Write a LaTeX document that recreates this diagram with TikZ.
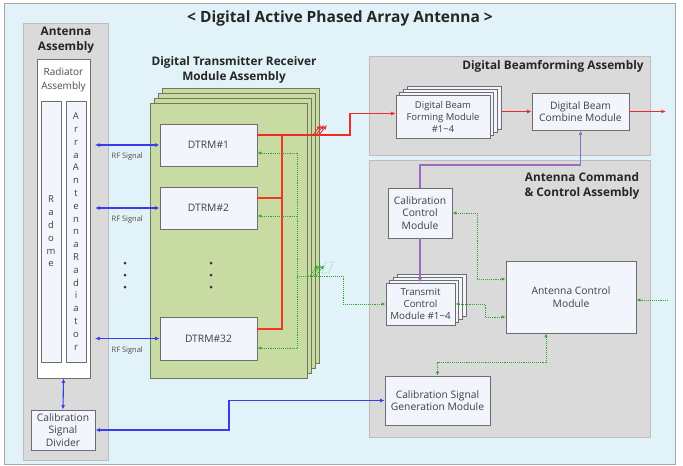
\documentclass[tikz,border=0pt]{standalone}
\usepackage{fontspec}
\setmainfont{Open Sans}
\usetikzlibrary{calc,arrows.meta}

\definecolor{skybg}{HTML}{E1F3F9}
\definecolor{asmgray}{HTML}{DADADA}
\definecolor{asmedge}{HTML}{BDBDBD}
\definecolor{boxfill}{HTML}{F3F5FC}
\definecolor{boxedge}{HTML}{6E6E6E}
\definecolor{trmgreen}{HTML}{C7DBA2}
\definecolor{trmedge}{HTML}{6F7A5A}
\definecolor{rfblue}{HTML}{3A3AF0}
\definecolor{datared}{HTML}{F02A2A}
\definecolor{ctrlgreen}{HTML}{2DA82D}
\definecolor{calpurple}{HTML}{9B6BC4}

\begin{document}
\begin{tikzpicture}[x=1pt, y=-1pt,
        frame/.style={draw=gray!70, fill=skybg, line width=0.8pt, inner sep=0pt},
        asm/.style={draw=asmedge, fill=asmgray, line width=0.8pt, inner sep=0pt},
        asmtitle/.style={font=\bfseries\fontsize{11.8}{15}\selectfont, align=center, text=black!85},
        block/.style={
            draw=boxedge,
            fill=boxfill,
            line width=0.9pt,
            inner sep=0pt,
            align=center,
            text=black!75,
            font=\fontsize{10.3}{12.5}\selectfont
        },
        layer/.style={draw=trmedge, fill=trmgreen, line width=0.9pt, inner sep=0pt, minimum width=157pt, minimum height=275pt},
        column/.style={block, minimum width=20pt, minimum height=261pt, font=\fontsize{9.5}{12.8}\selectfont},
        dot/.style={circle, fill=black!80, inner sep=0pt, minimum size=3pt},
        rfarrow/.style={<->, >={Latex[length=4.5pt, width=4pt]}, draw=rfblue, line width=1.1pt},
        rfnote/.style={font=\fontsize{7.5}{8}\selectfont, text=black!70},
        dataline/.style={draw=datared, line width=1.2pt, >={Latex[length=4.5pt, width=4pt]}},
        ctrlline/.style={draw=ctrlgreen, densely dotted, line width=0.9pt, >={Latex[length=4pt, width=3.5pt]}},
        calline/.style={draw=calpurple, line width=1.4pt, >={Latex[length=4.5pt, width=4pt]}}
    ]

    \useasboundingbox (0,0) rectangle (683,466);

    \node[frame, minimum width=671pt, minimum height=461pt] (outer) at (339.5,233.5) {};
    \node[font=\bfseries\fontsize{15.5}{18}\selectfont, text=black!85] (title) at (340,18) {< Digital Active Phased Array Antenna >};

    \node[asm, minimum width=85pt, minimum height=437pt] (antAsm) at (65.5,241.5) {};
    \node[asmtitle] (antTitle) at (66,40) {Antenna\\Assembly};

    \node[block, minimum width=53pt, minimum height=319pt, fill=white] (radAsm) at (63.5,218.5) {};
    \node[text=black!70, align=center, font=\fontsize{10}{14}\selectfont] (radTitle) at (63.5,80) {Radiator\\Assembly};

    \node[column] (radome) at (51,231.5) {R\\a\\d\\o\\m\\e};
    \node[column] (arrRad) at (76,231.5) {A\\r\\r\\a\\A\\n\\t\\e\\n\\n\\a\\R\\a\\d\\i\\a\\t\\o\\r};

    \node[block, minimum width=64pt, minimum height=40pt] (calDiv) at (63,430) {Calibration\\Signal\\Divider};

    \foreach \k in {3,2,1}
        \node[layer] (trmL\k) at ($(228.5,240.5)+(4.3*\k,-5*\k)$) {};
    \node[layer] (trm) at (228.5,240.5) {};
    \node[asmtitle] (trmTitle) at (234,70) {Digital Transmitter Receiver\\Module Assembly};

    \node[block, minimum width=97pt, minimum height=42pt] (dtrm1) at (208.5,145) {DTRM\#1};
    \node[block, minimum width=97pt, minimum height=42pt] (dtrm2) at (208.5,208) {DTRM\#2};
    \node[block, minimum width=97pt, minimum height=43pt] (dtrm32) at (208.5,338.5) {DTRM\#32};

    \foreach \y in {263,275,287} {
        \node[dot] (dotL\y) at (125,\y) {};
        \node[dot] (dotT\y) at (211,\y) {};
    }

    \node[asm, minimum width=281pt, minimum height=99pt] (dbfAsm) at (509.5,105.5) {};
    \node[asmtitle] (dbfTitle) at (553,66) {Digital Beamforming Assembly};

    \foreach \k in {3,2,1}
        \node[block, minimum width=94pt, minimum height=43pt] (dbfL\k) at ($(443,116.5)+(3.7*\k,-2.7*\k)$) {};
    \node[block, minimum width=94pt, minimum height=43pt, font=\fontsize{9.5}{12}\selectfont] (dbf) at (443,116.5) {Digital Beam\\Forming Module\\\#1\textasciitilde4};
    \node[block, minimum width=97pt, minimum height=37pt] (dbc) at (580.5,111.5) {Digital Beam\\Combine Module};

    \node[asm, minimum width=281pt, minimum height=277pt] (accAsm) at (509.5,298.5) {};
    \node[asmtitle] (accTitle) at (582,186) {Antenna Command\\\& Control Assembly};

    \node[block, minimum width=64pt, minimum height=50pt] (ccm) at (420,213) {Calibration\\Control\\Module};

    \foreach \k in {3,2,1}
        \node[block, minimum width=69pt, minimum height=42pt] (tcmL\k) at ($(420.5,304)+(3.7*\k,-3*\k)$) {};
    \node[block, minimum width=69pt, minimum height=42pt, font=\fontsize{9.8}{12}\selectfont] (tcm) at (420.5,304) {Transmit\\Control\\Module \#1\textasciitilde4};

    \node[block, minimum width=130pt, minimum height=72pt] (acm) at (571,297) {Antenna Control\\Module};
    \node[block, minimum width=105pt, minimum height=49pt] (csgm) at (437.5,400.5) {Calibration Signal\\Generation Module};

    \coordinate (rfx) at (95,0);
    \draw[rfarrow] (rfx |- dtrm1.west) -- node[rfnote, below=4pt] (rf1) {RF Signal} (dtrm1.west);
    \draw[rfarrow] (rfx |- dtrm2.west) -- node[rfnote, below=4pt] (rf2) {RF Signal} (dtrm2.west);
    \draw[rfarrow] (rfx |- dtrm32.west) -- node[rfnote, below=4pt] (rf32) {RF Signal} (dtrm32.west);
    \draw[rfarrow] (radAsm.south) -- (calDiv.north);

    \coordinate (calbend) at (229,415);
    \draw[rfarrow] (calDiv.east) -| (calbend) |- (csgm.west);

    \coordinate (r1) at (282,135);
    \coordinate (r2) at (282,198);
    \coordinate (r32) at (282,329);
    \coordinate (rout) at (316,135);
    \coordinate (rbend) at (350,124);
    \draw[dataline, draw=datared!85!orange] (r32 -| dtrm32.east) -- (r32) -- (r1);
    \draw[dataline, draw=datared!85!orange] (r2 -| dtrm2.east) -- (r2);
    \draw[dataline, ->] (r1 -| dtrm1.east) -- (rout) -| (rbend) |- ([yshift=3pt]dbf.west);
    \foreach \k in {0,1,2}
        \draw[dataline, line width=0.8pt, ->] ($(rout)+(-4+3*\k,1)$) -- ++(9,-11);

    \draw[dataline, ->] (dbfL3.east |- dbc.west) -- (dbc.west);
    \coordinate (dbcOut) at (666,111.5);
    \draw[dataline, ->] (dbc.east) -- (dbcOut);

    \coordinate (pbend) at (500,165);
    \draw[calline, ->] (ccm.north) |- (pbend) -| (dbc.south);
    \draw[calline, ->] (ccm.south) -- (ccm.south |- tcm.north);

    \coordinate (gtop) at (297,153);
    \coordinate (g2) at (297,216);
    \coordinate (gbot) at (297,348);
    \coordinate (gmid) at (297,276);
    \coordinate (gout) at (314,276);
    \coordinate (gbend) at (343,290);
    \draw[ctrlline] (gtop) -- (gbot);
    \draw[ctrlline, ->] (gtop) -- (gtop -| dtrm1.east);
    \draw[ctrlline, ->] (g2) -- (g2 -| dtrm2.east);
    \draw[ctrlline, ->] (gbot) -- (gbot -| dtrm32.east);
    \draw[ctrlline, ->] (gmid) -- (gout) -| (gbend) |- (tcm.west);
    \foreach \k in {0,1,2}
        \draw[ctrlline, ->] ($(gout)+(-4+3*\k,0)$) -- ++(8,-11);
    \draw[ctrlline, draw=ctrlgreen!45] (322,273) -- (326,262) -- (333,262) -- (329,273) -- cycle;

    \coordinate (cbend) at (477,250);
    \coordinate (tbend) at (485,310);
    \coordinate (acmIn1) at ($(acm.west)+(0,-18)$);
    \coordinate (acmIn2) at ($(acm.west)+(0,20)$);
    \draw[ctrlline, <->] (ccm.east) -| (cbend) |- (acmIn1);
    \draw[ctrlline, <->] (tcm.east) -| (tbend) |- (acmIn2);

    \coordinate (acmExt) at (668,300);
    \draw[ctrlline, ->] (acmExt) -- (acmExt -| acm.east);

    \coordinate (sbend) at (490,362);
    \coordinate (acmIn3) at ($(acm.south)+(-25,0)$);
    \draw[ctrlline, <->] (csgm.north) |- (sbend) -| (acmIn3);

\end{tikzpicture}
\end{document}
